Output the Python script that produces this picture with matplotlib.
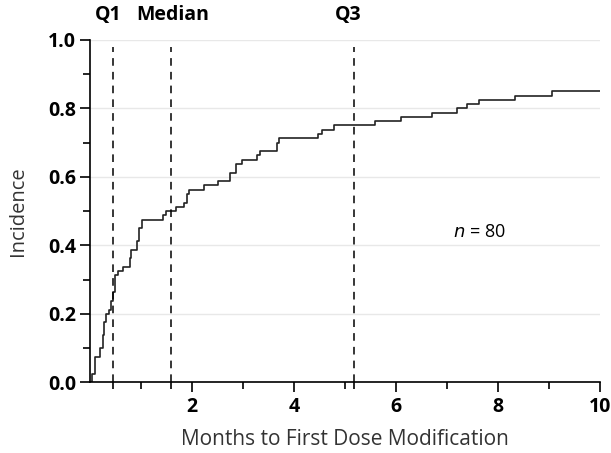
import numpy as np
import matplotlib.pyplot as plt
import matplotlib.transforms as mtransforms

plt.rcParams['font.family'] = ['Open Sans', 'DejaVu Sans']

# cumulative incidence, steps of 1/80
months = [0.0, 0.04, 0.10, 0.19, 0.25, 0.28, 0.31, 0.38, 0.42, 0.46, 0.50,
          0.55, 0.65, 0.78, 0.81, 0.93, 0.97, 1.02, 1.44, 1.50, 1.69, 1.84,
          1.90, 1.95, 2.24, 2.51, 2.75, 2.87, 2.98, 3.28, 3.33, 3.67, 3.71,
          4.48, 4.55, 4.78, 5.59, 6.10, 6.71, 7.20, 7.40, 7.63, 8.34, 9.06,
          10.0]
incidence = [0, 0.025, 0.075, 0.1, 0.1375, 0.175, 0.2, 0.2125, 0.2375,
             0.2625, 0.3125, 0.325, 0.3375, 0.3625, 0.3875, 0.4125, 0.45,
             0.475, 0.4875, 0.5, 0.5125, 0.525, 0.55, 0.5625, 0.575, 0.5875,
             0.6125, 0.6375, 0.65, 0.6625, 0.675, 0.7, 0.7125, 0.725, 0.7375,
             0.75, 0.7625, 0.775, 0.7875, 0.8, 0.8125, 0.825, 0.8375, 0.85,
             0.85]

quartile_names = ["Q1", "Median", "Q3"]
quartile_months = [0.46, 1.59, 5.17]

fig = plt.figure(figsize=(6.11, 4.53), dpi=100)
ax = fig.add_axes([0.147, 0.156, 0.835, 0.756])

ax.step(months, incidence, where='post', color='#222222', lw=1.2)

trans = mtransforms.blended_transform_factory(ax.transData, ax.transAxes)
label_shift = [-0.1, 0.03, -0.1]
for name, q, dx in zip(quartile_names, quartile_months, label_shift):
    ax.axvline(q, color='black', lw=1.1, ls=(0, (5, 4)), ymax=0.98)
    ax.text(q + dx, 1.073, name, transform=trans, ha='center', va='center',
            fontsize=14, fontweight='bold')

ax.text(7.63, 0.44, "$n$ = 80", ha='center', va='center', fontsize=13)

ax.set_xlim(0, 10)
ax.set_ylim(0, 1.0)
ax.set_xticks([2, 4, 6, 8, 10])
ax.set_xticks([1, 3, 5, 7, 9] + quartile_months, minor=True)
ax.set_yticks(np.arange(0, 1.01, 0.2))
ax.set_yticks(np.arange(0.1, 1.0, 0.2), minor=True)
ax.set_yticklabels([f"{v:.1f}" for v in np.arange(0, 1.01, 0.2)])

ax.grid(axis='y', which='major', color='#e8e8e8', lw=1)
ax.set_axisbelow(True)

for side in ['top', 'right']:
    ax.spines[side].set_visible(False)
for side in ['left', 'bottom']:
    ax.spines[side].set_linewidth(1.2)

ax.tick_params(which='major', direction='out', length=7, width=1.2,
               labelsize=14)
ax.tick_params(which='minor', direction='out', length=5, width=1.2)
ax.tick_params(axis='y', pad=3)
for lab in ax.get_xticklabels() + ax.get_yticklabels():
    lab.set_fontweight('bold')

ax.set_xlabel("Months to First Dose Modification", fontsize=15,
              color='#333333', labelpad=9)
ax.set_ylabel("Incidence", fontsize=14.5, color='#333333', labelpad=14)

fig.savefig("out.png", dpi=100)
